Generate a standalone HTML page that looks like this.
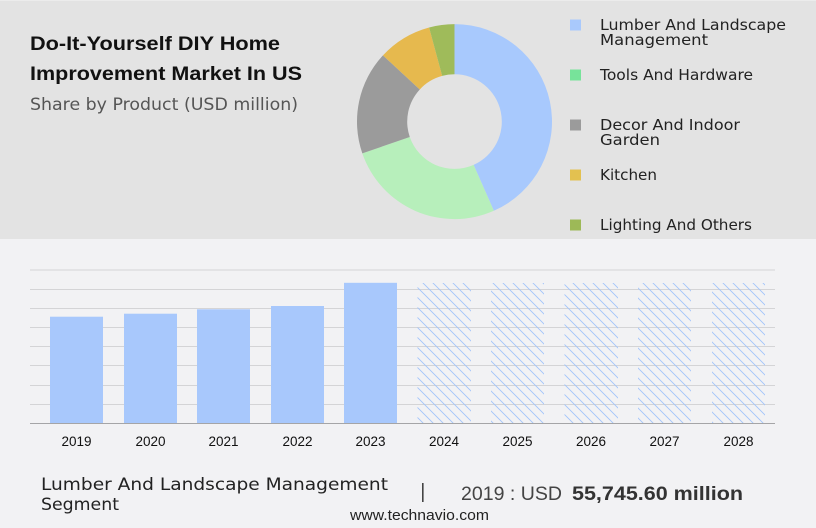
<!DOCTYPE html>
<html><head><meta charset="utf-8"><style>
html,body{margin:0;padding:0;background:#f2f2f4;}
svg{display:block;}
</style></head><body>
<svg width="816" height="528" viewBox="0 0 816 528" xmlns="http://www.w3.org/2000/svg">
<defs>
<pattern id="hatch" patternUnits="userSpaceOnUse" width="10" height="10">
<path d="M0,0 L10,10 M-1,9 L1,11 M9,-1 L11,1" stroke="#a2c4fb" stroke-width="0.9" fill="none"/>
</pattern>
</defs>
<rect x="0" y="0" width="816" height="528" fill="#f2f2f4"/>
<rect x="0" y="0" width="816" height="239" fill="#e3e3e3"/>
<rect x="0" y="0" width="816" height="1" fill="#ececec"/>

<!-- Title -->
<text x="30" y="50" font-family="Liberation Sans, sans-serif" font-weight="bold" font-size="19.5" fill="#111" textLength="250" lengthAdjust="spacingAndGlyphs">Do-It-Yourself DIY Home</text>
<text x="30" y="80" font-family="Liberation Sans, sans-serif" font-weight="bold" font-size="19.5" fill="#111" textLength="272" lengthAdjust="spacingAndGlyphs">Improvement Market In US</text>
<text x="30" y="110" font-family="DejaVu Sans, sans-serif" font-size="17" fill="#555" textLength="268" lengthAdjust="spacingAndGlyphs">Share by Product (USD million)</text>

<!-- Donut -->
<path d="M454.5,24.1 A97.5,97.5 0 0 1 493.84,210.81 L473.59,164.88 A47.3,47.3 0 0 0 454.5,74.3 Z" fill="#a8c9fd"/>
<path d="M493.84,210.81 A97.5,97.5 0 0 1 362.31,153.35 L409.78,137.0 A47.3,47.3 0 0 0 473.59,164.88 Z" fill="#b7efbb"/>
<path d="M362.31,153.35 A97.5,97.5 0 0 1 382.96,55.36 L419.8,89.46 A47.3,47.3 0 0 0 409.78,137.0 Z" fill="#9b9b9b"/>
<path d="M382.96,55.36 A97.5,97.5 0 0 1 429.10,27.46 L442.18,75.93 A47.3,47.3 0 0 0 419.8,89.46 Z" fill="#e6b94e"/>
<path d="M429.10,27.46 A97.5,97.5 0 0 1 454.5,24.1 L454.5,74.3 A47.3,47.3 0 0 0 442.18,75.93 Z" fill="#9fbb5a"/>

<!-- Legend -->
<rect x="570" y="19.5" width="11" height="11" fill="#a9c9fc"/>
<rect x="570" y="69.5" width="11" height="11" fill="#77e39a"/>
<rect x="570" y="119.5" width="11" height="11" fill="#9b9b9b"/>
<rect x="570" y="169.5" width="11" height="11" fill="#e3c150"/>
<rect x="570" y="219.5" width="11" height="11" fill="#9db957"/>
<g font-family="DejaVu Sans, sans-serif" font-size="15" fill="#222">
<text x="600" y="30" textLength="186" lengthAdjust="spacingAndGlyphs">Lumber And Landscape</text>
<text x="600" y="45" textLength="108" lengthAdjust="spacingAndGlyphs">Management</text>
<text x="600" y="80" textLength="153" lengthAdjust="spacingAndGlyphs">Tools And Hardware</text>
<text x="600" y="130" textLength="140" lengthAdjust="spacingAndGlyphs">Decor And Indoor</text>
<text x="600" y="145" textLength="60" lengthAdjust="spacingAndGlyphs">Garden</text>
<text x="600" y="180" textLength="57" lengthAdjust="spacingAndGlyphs">Kitchen</text>
<text x="600" y="230" textLength="152" lengthAdjust="spacingAndGlyphs">Lighting And Others</text>
</g>

<!-- Grid -->
<g stroke="#d4d4d6" stroke-width="1">
<line x1="30" y1="270" x2="775" y2="270"/>
<line x1="30" y1="289.5" x2="775" y2="289.5"/>
<line x1="30" y1="308.5" x2="775" y2="308.5"/>
<line x1="30" y1="327.5" x2="775" y2="327.5"/>
<line x1="30" y1="346.5" x2="775" y2="346.5"/>
<line x1="30" y1="365.5" x2="775" y2="365.5"/>
<line x1="30" y1="385.5" x2="775" y2="385.5"/>
<line x1="30" y1="404.5" x2="775" y2="404.5"/>
</g>

<!-- Bars -->
<g fill="#a8c8fc">
<rect x="50" y="316.7" width="53" height="106.8"/>
<rect x="124" y="313.7" width="53" height="109.8"/>
<rect x="197" y="309.3" width="53" height="114.2"/>
<rect x="271" y="306" width="53" height="117.5"/>
<rect x="344" y="282.8" width="53" height="140.7"/>
</g>
<g fill="url(#hatch)">
<rect x="417.5" y="283" width="53.5" height="140.5"/>
<rect x="491" y="283" width="53" height="140.5"/>
<rect x="564.5" y="283" width="53.5" height="140.5"/>
<rect x="638" y="283" width="53" height="140.5"/>
<rect x="712" y="283" width="53" height="140.5"/>
</g>
<line x1="30" y1="423.5" x2="775" y2="423.5" stroke="#a5a5a7" stroke-width="1"/>

<!-- Year labels -->
<g font-family="Liberation Sans, sans-serif" font-size="13.5" fill="#111" text-anchor="middle">
<text x="76.5" y="446">2019</text>
<text x="150.5" y="446">2020</text>
<text x="223.5" y="446">2021</text>
<text x="297.5" y="446">2022</text>
<text x="370.5" y="446">2023</text>
<text x="444" y="446">2024</text>
<text x="517.5" y="446">2025</text>
<text x="591" y="446">2026</text>
<text x="664.5" y="446">2027</text>
<text x="738.5" y="446">2028</text>
</g>

<!-- Footer -->
<g font-family="DejaVu Sans, sans-serif" fill="#222">
<text x="41" y="490" font-size="17" textLength="347" lengthAdjust="spacingAndGlyphs">Lumber And Landscape Management</text>
<text x="41" y="510" font-size="17" textLength="78" lengthAdjust="spacingAndGlyphs">Segment</text>
</g>
<rect x="422" y="483" width="1.6" height="19" fill="#444"/>
<g font-family="Liberation Sans, sans-serif">
<text x="461" y="500" font-size="19" fill="#444" textLength="101" lengthAdjust="spacingAndGlyphs">2019 : USD</text>
<text x="572" y="500" font-size="19" font-weight="bold" fill="#333" textLength="171" lengthAdjust="spacingAndGlyphs">55,745.60 million</text>
<text x="350" y="520" font-size="15" fill="#222" textLength="139" lengthAdjust="spacingAndGlyphs">www.technavio.com</text>
</g>
</svg>
</body></html>
